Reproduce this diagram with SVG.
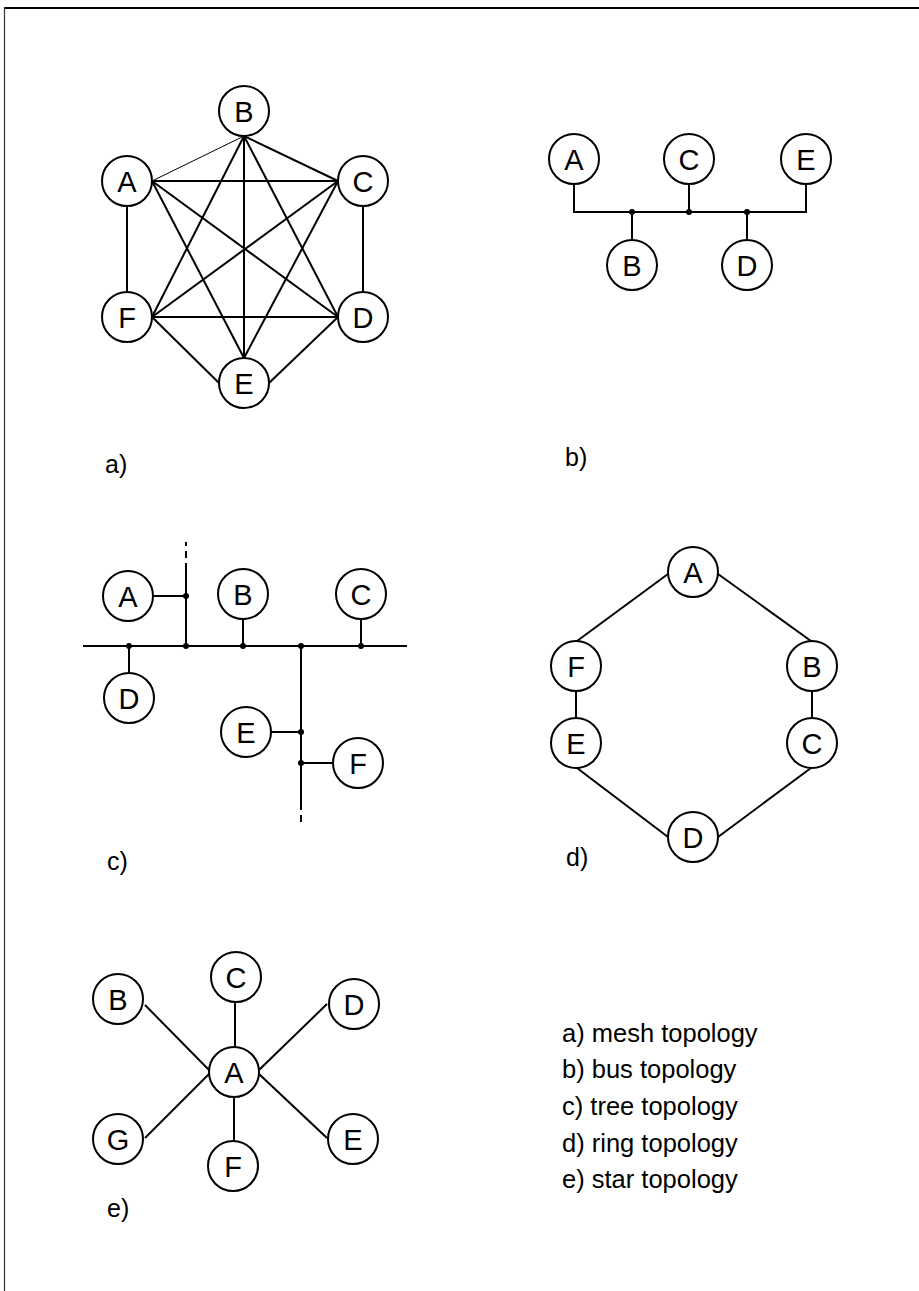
<svg xmlns="http://www.w3.org/2000/svg" width="919" height="1291" viewBox="0 0 919 1291">
<style>
.n circle{fill:#fff;stroke:#000;stroke-width:2}
.n text{font-family:"Liberation Sans",Arial,sans-serif;font-size:29px;text-anchor:middle;fill:#000}
.e{stroke:#000;stroke-width:2;fill:none}
.thin{stroke-width:1}
.dash{stroke-dasharray:7 5}
.dot{fill:#000}
.lbl{font-family:"Liberation Sans",Arial,sans-serif;font-size:25px;fill:#000}
.leg{font-family:"Liberation Sans",Arial,sans-serif;font-size:25.5px;fill:#000}
</style>
<rect width="919" height="1291" fill="#fff"/>
<g id="frame">
<line x1="4" y1="8" x2="919" y2="8" stroke="#000" stroke-width="2"/>
<line x1="4.5" y1="7" x2="4.5" y2="1291" stroke="#333" stroke-width="1.2"/>
</g>
<g id="connectors">
<line class="e thin" x1="152" y1="181" x2="244" y2="136"/>
<line class="e" x1="152" y1="181" x2="338" y2="181"/>
<line class="e" x1="152" y1="181" x2="338" y2="317"/>
<line class="e" x1="152" y1="181" x2="244" y2="358"/>
<line class="e" x1="244" y1="136" x2="338" y2="181"/>
<line class="e" x1="244" y1="136" x2="152" y2="317"/>
<line class="e" x1="244" y1="136" x2="244" y2="358"/>
<line class="e" x1="244" y1="136" x2="338" y2="317"/>
<line class="e" x1="338" y1="181" x2="152" y2="317"/>
<line class="e" x1="338" y1="181" x2="244" y2="358"/>
<line class="e" x1="152" y1="317" x2="338" y2="317"/>
<line class="e" x1="152" y1="317" x2="219" y2="383"/>
<line class="e" x1="338" y1="317" x2="269" y2="383"/>
<line class="e" x1="127" y1="206" x2="127" y2="292"/>
<line class="e" x1="363" y1="206" x2="363" y2="292"/>
<path class="e" d="M574,184 V212 H806 V184"/>
<path class="e" d="M689,184 V212"/>
<path class="e" d="M632,212 V240"/>
<path class="e" d="M747,212 V240"/>
<circle class="dot" cx="632" cy="212" r="3"/>
<circle class="dot" cx="689" cy="212" r="3"/>
<circle class="dot" cx="747" cy="212" r="3"/>
<path class="e" d="M83,646 H407"/>
<path class="e" d="M186,646 V570"/>
<path class="e dash" d="M186,570 V542"/>
<path class="e" d="M153,596 H186"/>
<path class="e" d="M129,646 V673"/>
<path class="e" d="M243,619 V646"/>
<path class="e" d="M361,619 V646"/>
<path class="e" d="M301,646 V803"/>
<path class="e dash" d="M301,803 V822"/>
<path class="e" d="M271,732 H301"/>
<path class="e" d="M301,763 H333"/>
<circle class="dot" cx="186" cy="596" r="3"/>
<circle class="dot" cx="186" cy="646" r="3"/>
<circle class="dot" cx="129" cy="646" r="3"/>
<circle class="dot" cx="243" cy="646" r="3"/>
<circle class="dot" cx="361" cy="646" r="3"/>
<circle class="dot" cx="301" cy="646" r="3"/>
<circle class="dot" cx="301" cy="732" r="3"/>
<circle class="dot" cx="301" cy="763" r="3"/>
<line class="e" x1="668" y1="574" x2="577" y2="641"/>
<line class="e" x1="718" y1="574" x2="811" y2="641"/>
<line class="e" x1="576" y1="691" x2="576" y2="718"/>
<line class="e" x1="812" y1="691" x2="812" y2="718"/>
<line class="e" x1="577" y1="768" x2="668" y2="837"/>
<line class="e" x1="811" y1="768" x2="718" y2="837"/>
<line class="e" x1="235" y1="1002" x2="235" y2="1047"/>
<line class="e" x1="145" y1="1005" x2="209" y2="1070"/>
<line class="e" x1="327" y1="1004" x2="259" y2="1070"/>
<line class="e" x1="145" y1="1138" x2="209" y2="1074"/>
<line class="e" x1="327" y1="1138" x2="259" y2="1074"/>
<line class="e" x1="234" y1="1097" x2="234" y2="1141"/>
</g>
<g id="mesh">
<g id="mesh-B" class="n"><circle cx="244" cy="111" r="25"/><text x="244" y="122">B</text></g>
<g id="mesh-A" class="n"><circle cx="127" cy="181" r="25"/><text x="127" y="192">A</text></g>
<g id="mesh-C" class="n"><circle cx="363" cy="181" r="25"/><text x="363" y="192">C</text></g>
<g id="mesh-F" class="n"><circle cx="127" cy="317" r="25"/><text x="127" y="328">F</text></g>
<g id="mesh-D" class="n"><circle cx="363" cy="317" r="25"/><text x="363" y="328">D</text></g>
<g id="mesh-E" class="n"><circle cx="244" cy="383" r="25"/><text x="244" y="394">E</text></g>
</g>
<g id="bus">
<g id="bus-A" class="n"><circle cx="574" cy="159" r="25"/><text x="574" y="170">A</text></g>
<g id="bus-C" class="n"><circle cx="689" cy="159" r="25"/><text x="689" y="170">C</text></g>
<g id="bus-E" class="n"><circle cx="806" cy="159" r="25"/><text x="806" y="170">E</text></g>
<g id="bus-B" class="n"><circle cx="632" cy="265" r="25"/><text x="632" y="276">B</text></g>
<g id="bus-D" class="n"><circle cx="747" cy="265" r="25"/><text x="747" y="276">D</text></g>
</g>
<g id="tree">
<g id="tree-A" class="n"><circle cx="128" cy="596" r="25"/><text x="128" y="607">A</text></g>
<g id="tree-B" class="n"><circle cx="243" cy="594" r="25"/><text x="243" y="605">B</text></g>
<g id="tree-C" class="n"><circle cx="361" cy="594" r="25"/><text x="361" y="605">C</text></g>
<g id="tree-D" class="n"><circle cx="129" cy="698" r="25"/><text x="129" y="709">D</text></g>
<g id="tree-E" class="n"><circle cx="246" cy="732" r="25"/><text x="246" y="743">E</text></g>
<g id="tree-F" class="n"><circle cx="358" cy="763" r="25"/><text x="358" y="774">F</text></g>
</g>
<g id="ring">
<g id="ring-A" class="n"><circle cx="693" cy="572" r="25"/><text x="693" y="583">A</text></g>
<g id="ring-F" class="n"><circle cx="576" cy="666" r="25"/><text x="576" y="677">F</text></g>
<g id="ring-B" class="n"><circle cx="812" cy="666" r="25"/><text x="812" y="677">B</text></g>
<g id="ring-E" class="n"><circle cx="576" cy="743" r="25"/><text x="576" y="754">E</text></g>
<g id="ring-C" class="n"><circle cx="812" cy="743" r="25"/><text x="812" y="754">C</text></g>
<g id="ring-D" class="n"><circle cx="693" cy="837" r="25"/><text x="693" y="848">D</text></g>
</g>
<g id="star">
<g id="star-A" class="n"><circle cx="234" cy="1072" r="25"/><text x="234" y="1083">A</text></g>
<g id="star-C" class="n"><circle cx="236" cy="977" r="25"/><text x="236" y="988">C</text></g>
<g id="star-B" class="n"><circle cx="118" cy="999" r="25"/><text x="118" y="1010">B</text></g>
<g id="star-D" class="n"><circle cx="354" cy="1004" r="25"/><text x="354" y="1015">D</text></g>
<g id="star-G" class="n"><circle cx="118" cy="1139" r="25"/><text x="118" y="1150">G</text></g>
<g id="star-E" class="n"><circle cx="353" cy="1139" r="25"/><text x="353" y="1150">E</text></g>
<g id="star-F" class="n"><circle cx="233" cy="1166" r="25"/><text x="233" y="1177">F</text></g>
</g>
<g id="labels">
<text class="lbl" x="105" y="473">a)</text>
<text class="lbl" x="565" y="466">b)</text>
<text class="lbl" x="107" y="870">c)</text>
<text class="lbl" x="566" y="866">d)</text>
<text class="lbl" x="107" y="1217">e)</text>
</g>
<g id="legend">
<text class="leg" x="562" y="1042">a) mesh topology</text>
<text class="leg" x="562" y="1078">b) bus topology</text>
<text class="leg" x="562" y="1115">c) tree topology</text>
<text class="leg" x="562" y="1152">d) ring topology</text>
<text class="leg" x="562" y="1188">e) star topology</text>
</g>
</svg>
